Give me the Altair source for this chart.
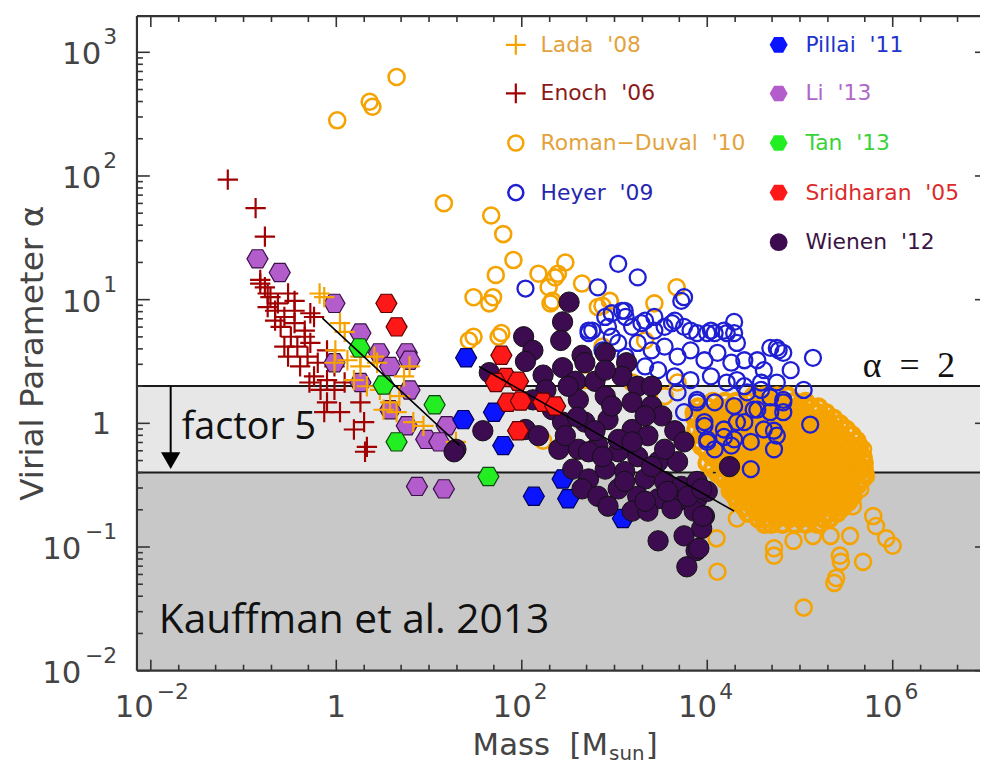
import altair as alt
import numpy as np
import pandas as pd

# ---------------- data: (log10 Mass [Msun], log10 alpha) ----------------
lada = [(-0.18, 1.05), (-0.13, 1.02), (0.04, 0.81), (0.09, 0.74), (-0.01, 0.59), (0.12, 0.51),
        (0.26, 0.46), (0.41, 0.54), (0.44, 0.49), (0.79, 0.46), (0.73, 0.38), (0.33, 0.30),
        (0.58, 0.17), (0.51, 0.11), (0.65, 0.09), (0.83, 0.01), (0.94, -0.02), (1.29, -0.15),
        (-0.02, 0.49), (0.19, 0.35), (0.47, 0.27), (0.68, 0.22), (0.26, 0.54)]

enoch = [(-1.17, 1.97), (-0.87, 1.74), (-0.77, 1.51), (-0.82, 1.16), (-0.77, 1.10), (-0.71, 1.02),
         (-0.63, 0.97), (-0.66, 0.91), (-0.56, 0.86), (-0.74, 0.94), (-0.45, 0.81), (-0.60, 0.78),
         (-0.49, 0.70), (-0.34, 0.70), (-0.42, 0.62), (-0.56, 0.62), (-0.28, 0.65), (-0.31, 0.54),
         (-0.20, 0.49), (-0.39, 0.46), (-0.24, 0.38), (-0.10, 0.35), (-0.29, 0.33), (-0.17, 0.27),
         (-0.02, 0.27), (0.09, 0.33), (-0.10, 0.17), (0.04, 0.09), (-0.13, 0.09), (0.26, 0.17),
         (0.30, 0.01), (0.19, -0.05), (0.33, -0.19), (0.31, -0.23), (-0.24, 0.86), (-0.45, 0.99),
         (-0.52, 1.05), (-0.28, 0.89), (-0.34, 0.75), (-0.10, 0.59), (-0.02, 0.46), (-0.52, 0.54),
         (-0.45, 0.91), (-0.66, 0.83), (-0.74, 1.05), (-0.82, 1.13)]

roman_duval = [(0.01, 2.45), (0.36, 2.60), (0.39, 2.56), (0.65, 2.80), (1.16, 1.78), (1.67, 1.68),
               (1.80, 1.53), (1.91, 1.32), (1.72, 1.20), (2.47, 1.30), (2.39, 1.21), (2.29, 1.10),
               (1.48, 1.02), (1.69, 1.02), (1.65, 0.97), (2.31, 0.97), (2.65, 1.13), (2.87, 0.95),
               (2.95, 0.99), (3.67, 1.10), (3.43, 0.97), (1.48, 0.70), (1.78, 0.73), (2.18, 1.21),
               (2.36, 1.18), (2.82, 0.94), (1.43, 0.67), (1.75, 0.70), (2.33, 0.99), (3.33, 0.67),
               (2.87, 0.62), (2.68, 0.35), (3.19, 0.33), (3.54, 0.22), (3.68, 0.33), (2.23, -0.14),
               (5.28, 0.01), (5.68, -0.21), (5.71, -0.43), (5.79, -0.75), (6.00, -0.99), (5.82, -0.83),
               (5.43, -1.07), (5.68, -1.12), (5.39, -1.25), (5.04, -1.49), (4.72, -1.07), (4.93, -0.95),
               (4.11, -1.20), (4.10, -0.93), (4.32, -0.77), (5.54, -0.91), (5.14, -0.91), (5.33, -0.91),
               (5.93, -0.93), (5.57, -0.67), (5.65, -0.53), (4.72, -1.01), (4.90, -0.75), (5.37, -1.29),
               (5.44, -1.12)]

# dense Roman-Duval cloud, row by row (log10 alpha, [log10 M ...])
roman_duval_cloud = [
    (0.22, [4.50, 4.62, 4.75, 4.87]),
    (0.175, [4.06, 4.19, 4.31, 4.44, 4.56, 4.69, 4.81, 4.94, 5.06]),
    (0.13, [3.90, 4.00, 4.13, 4.25, 4.38, 4.50, 4.62, 4.75, 4.88, 5.00, 5.12, 5.20]),
    (0.085, [3.86, 3.94, 4.06, 4.19, 4.31, 4.44, 4.56, 4.69, 4.81, 4.94, 5.06, 5.19, 5.28]),
    (0.04, [3.87, 4.00, 4.12, 4.25, 4.38, 4.50, 4.63, 4.75, 4.87, 5.00, 5.12, 5.25, 5.36]),
    (-0.005, [3.94, 4.06, 4.19, 4.31, 4.44, 4.56, 4.69, 4.81, 4.94, 5.06, 5.19, 5.31, 5.43]),
    (-0.05, [3.88, 4.00, 4.12, 4.25, 4.38, 4.50, 4.62, 4.75, 4.88, 5.00, 5.13, 5.25, 5.38, 5.50]),
    (-0.095, [3.94, 4.06, 4.19, 4.31, 4.44, 4.56, 4.69, 4.81, 4.94, 5.06, 5.19, 5.31, 5.44, 5.56]),
    (-0.14, [3.90, 4.00, 4.13, 4.25, 4.37, 4.50, 4.62, 4.75, 4.88, 5.00, 5.12, 5.25, 5.38, 5.50, 5.61]),
    (-0.185, [3.94, 4.06, 4.19, 4.31, 4.44, 4.56, 4.69, 4.81, 4.94, 5.06, 5.19, 5.31, 5.44, 5.56, 5.64]),
    (-0.23, [4.00, 4.12, 4.25, 4.38, 4.50, 4.63, 4.75, 4.87, 5.00, 5.12, 5.25, 5.38, 5.50, 5.62]),
    (-0.275, [4.06, 4.19, 4.31, 4.44, 4.56, 4.69, 4.81, 4.94, 5.06, 5.19, 5.31, 5.44, 5.56, 5.68]),
    (-0.32, [4.00, 4.13, 4.25, 4.37, 4.50, 4.62, 4.75, 4.88, 5.00, 5.12, 5.25, 5.38, 5.50, 5.62, 5.69]),
    (-0.365, [4.06, 4.19, 4.31, 4.44, 4.56, 4.69, 4.81, 4.94, 5.06, 5.19, 5.31, 5.44, 5.56, 5.69]),
    (-0.41, [4.12, 4.25, 4.38, 4.50, 4.62, 4.75, 4.87, 5.00, 5.13, 5.25, 5.37, 5.50, 5.62, 5.70]),
    (-0.455, [4.19, 4.31, 4.44, 4.56, 4.69, 4.81, 4.94, 5.06, 5.19, 5.31, 5.44, 5.56, 5.67]),
    (-0.50, [4.25, 4.37, 4.50, 4.63, 4.75, 4.88, 5.00, 5.12, 5.25, 5.38, 5.50, 5.62]),
    (-0.545, [4.25, 4.31, 4.44, 4.56, 4.69, 4.81, 4.94, 5.06, 5.19, 5.31, 5.44, 5.56]),
    (-0.59, [4.30, 4.38, 4.50, 4.62, 4.75, 4.88, 5.00, 5.13, 5.25, 5.37, 5.50, 5.57]),
    (-0.635, [4.33, 4.44, 4.56, 4.69, 4.81, 4.94, 5.06, 5.19, 5.31, 5.44, 5.52]),
    (-0.68, [4.40, 4.50, 4.63, 4.75, 4.87, 5.00, 5.12, 5.25, 5.37, 5.46]),
    (-0.725, [4.44, 4.56, 4.69, 4.81, 4.94, 5.06, 5.19, 5.31, 5.40]),
    (-0.77, [4.55, 4.62, 4.75, 4.88, 5.00, 5.12, 5.25, 5.32]),
    (-0.815, [4.62, 4.69, 4.81, 4.94, 5.06, 5.19]),
]

heyer = [(3.04, 1.29), (3.25, 1.18), (2.04, 1.09), (2.82, 1.10), (3.72, 0.99), (3.75, 1.02), (4.29, 0.82),
         (4.75, 0.61), (4.82, 0.57), (2.72, 0.75), (2.90, 0.86), (3.11, 0.91), (2.97, 0.70), (3.19, 0.78),
         (3.33, 0.83), (3.43, 0.75), (3.62, 0.81), (3.75, 0.78), (3.89, 0.73), (4.04, 0.75), (4.21, 0.73),
         (4.32, 0.65), (3.25, 0.65), (3.40, 0.59), (3.54, 0.62), (3.68, 0.54), (3.82, 0.59), (3.97, 0.51),
         (4.11, 0.57), (4.26, 0.49), (4.40, 0.51), (4.54, 0.51), (4.61, 0.43), (3.47, 0.43), (3.65, 0.38),
         (3.82, 0.35), (4.04, 0.38), (4.21, 0.33), (4.40, 0.30), (4.58, 0.27), (4.75, 0.33), (4.82, 0.19),
         (3.68, 0.25), (3.89, 0.19), (4.08, 0.17), (4.29, 0.14), (4.50, 0.11), (4.68, 0.09), (3.75, 0.09),
         (3.97, 0.01), (4.18, -0.05), (4.40, 0.01), (4.61, -0.05), (4.75, -0.10), (4.00, -0.15),
         (4.26, -0.18), (4.47, -0.15), (4.72, -0.21), (4.47, -0.37), (2.72, 0.73), (3.04, 0.65),
         (2.87, 0.59), (3.12, 0.54), (3.33, 0.46), (4.08, 0.73), (4.68, 0.61), (4.77, 0.59), (5.14, 0.53),
         (4.90, 0.43), (4.58, 0.33), (4.32, 0.35), (5.04, 0.27), (4.82, 0.17), (4.43, 0.25), (4.68, 0.21),
         (4.54, 0.11), (4.82, 0.09), (5.11, -0.01), (4.72, -0.06), (4.32, 0.01), (3.97, -0.02),
         (4.18, -0.11), (4.00, -0.13), (4.08, -0.21), (3.89, 0.17), (4.29, -0.13), (2.97, 0.89),
         (3.08, 0.91), (3.12, 0.86), (2.93, 0.78), (2.76, 0.75), (3.29, 0.81), (3.43, 0.86), (3.54, 0.78),
         (3.65, 0.83), (3.82, 0.75), (4.00, 0.73), (4.18, 0.75), (4.29, 0.73)]

pillai = [(1.40, 0.53), (1.37, 0.03), (1.80, -0.18), (2.13, -0.59), (2.44, -0.45), (2.50, -0.61),
          (3.09, -0.77), (1.70, 0.09)]

li = [(-0.85, 1.33), (-0.61, 1.22), (-0.02, 0.97), (0.26, 0.73), (0.46, 0.57), (0.76, 0.57), (0.79, 0.51),
      (-0.02, 0.49), (0.58, 0.46), (0.26, 0.33), (0.79, 0.27), (0.58, 0.11), (0.76, -0.02), (0.97, -0.13),
      (1.19, -0.02), (1.11, -0.15), (0.87, -0.51), (1.16, -0.53)]

tan = [(0.25, 0.61), (0.51, 0.31), (1.06, 0.15), (0.65, -0.15), (1.64, -0.43)]

sridharan = [(0.54, 0.97), (0.65, 0.78), (1.78, 0.55), (1.83, 0.37), (1.72, 0.33), (1.96, 0.34),
             (1.85, 0.17), (1.99, 0.18), (2.23, 0.17), (2.36, 0.14), (1.96, -0.06)]

wienen = [(2.51, 0.98), (2.44, 0.82), (2.42, 0.67), (2.02, 0.70), (2.12, 0.59), (2.04, 0.50), (2.65, 0.55),
          (2.90, 0.57), (3.13, 0.49), (2.23, 0.39), (2.44, 0.45), (2.58, 0.34), (2.79, 0.34), (3.08, 0.38),
          (3.25, 0.30), (3.40, 0.30), (1.65, 0.41), (1.58, -0.06), (1.29, -0.21), (2.04, -0.05),
          (2.18, -0.10), (2.33, 0.11), (2.61, 0.19), (2.90, 0.22), (3.19, 0.17), (3.40, 0.14), (3.51, 0.06),
          (2.44, 0.01), (2.68, 0.01), (2.93, 0.03), (3.19, -0.05), (3.36, -0.10), (3.65, -0.06),
          (3.75, -0.15), (2.40, -0.21), (2.61, -0.21), (2.82, -0.18), (3.04, -0.23), (3.25, -0.27),
          (3.47, -0.31), (3.68, -0.31), (2.55, -0.37), (2.72, -0.45), (2.90, -0.37), (3.11, -0.39),
          (3.33, -0.45), (3.54, -0.47), (3.72, -0.51), (3.89, -0.47), (2.65, -0.53), (2.82, -0.59),
          (3.04, -0.53), (3.25, -0.59), (3.47, -0.61), (3.68, -0.63), (3.89, -0.61), (4.00, -0.55),
          (2.93, -0.67), (3.19, -0.71), (3.36, -0.71), (3.62, -0.69), (3.86, -0.71), (3.97, -0.75),
          (3.94, -0.85), (3.47, -0.95), (3.75, -0.91), (3.88, -1.03), (3.78, -1.16), (4.24, -0.35),
          (2.60, 0.05), (2.79, -0.06), (3.04, -0.13), (2.50, 0.30), (2.26, 0.27), (2.12, 0.19),
          (2.68, 0.49), (2.90, 0.43), (2.97, 0.14), (3.33, 0.06), (2.72, -0.23), (3.19, -0.15),
          (2.87, -0.27), (2.47, -0.10), (3.54, -0.21), (3.40, -0.35), (3.11, -0.47), (3.57, -0.55),
          (3.33, -0.63), (3.79, -0.59), (3.94, -0.53), (3.95, -0.75), (3.91, -1.01), (1.27, -0.23)]

fit_low = [(-0.15, 0.85), (1.33, -0.18)]
fit_high = [(1.54, 0.46), (4.29, -0.71)]

alpha_limits = [2.0, 0.4]
band_lo = [0.01, 0.4]
band_hi = [0.4, 2.0]

x_major = [0.01, 1, 100, 1e4, 1e6]
x_minor = [0.02, 0.05, 0.1, 0.2, 0.5, 2, 5, 10, 20, 50, 200, 500, 1000, 2000, 5000,
           2e4, 5e4, 1e5, 2e5, 5e5, 2e6, 5e6]
x_base = ["10", "1", "10", "10", "10"]
x_exp = ["\u22122", "", "2", "4", "6"]
y_major = [0.01, 0.1, 1, 10, 100, 1000]
y_minor = [k * 10.0 ** e for e in range(-2, 3) for k in range(2, 10)]
y_base = ["10", "10", "1", "10", "10", "10"]
y_exp = ["\u22122", "\u22121", "", "1", "2", "3"]

legend_names = ["Lada\u00a0 '08", "Enoch\u00a0 '06", "Roman\u2212Duval\u00a0 '10", "Heyer\u00a0 '09",
                "Pillai\u00a0 '11", "Li\u00a0 '13", "Tan\u00a0 '13", "Sridharan\u00a0 '05", "Wienen\u00a0 '12"]
legend_text_colors = ["#e3a33c", "#8c1a1a", "#e3a33c", "#2626b0", "#2233cc", "#b066c8", "#3ad23a",
                      "#dd2a2a", "#3a1442"]

# ---------------- chart ----------------
W, H = 850, 660
XDOM = [10 ** -2.1497, 10 ** 6.9412]
YDOM = [0.01, 10 ** 3.293]
xs = alt.Scale(type="log", domain=XDOM, nice=False)
ys = alt.Scale(type="log", domain=YDOM, nice=False)
X = alt.X("mass:Q", scale=xs, axis=None)
Y = alt.Y("alpha:Q", scale=ys, axis=None)

ORANGE = "#f5a300"
BLUE_O = "#1e1ed2"
DARKRED = "#a00000"
HEX = "M -1 0 L -0.5 -0.866 L 0.5 -0.866 L 1 0 L 0.5 0.866 L -0.5 0.866 Z"
CROSS = "M -1 0 L 1 0 M 0 -1 L 0 1"
FONT = "DejaVu Sans"
LBL = "#444444"


def frame(pairs):
    a = np.array(pairs, dtype=float)
    return pd.DataFrame({"mass": 10 ** a[:, 0], "alpha": 10 ** a[:, 1]})


def open_pts(pairs, shape, size, color, sw):
    return alt.Chart(frame(pairs)).mark_point(
        shape=shape, size=size, filled=False, color=color, stroke=color, strokeWidth=sw, opacity=1
    ).encode(x=X, y=Y)


def solid_pts(pairs, shape, size, fill, stroke, sw):
    return alt.Chart(frame(pairs)).mark_point(
        shape=shape, size=size, filled=True, fill=fill, stroke=stroke, strokeWidth=sw, opacity=1
    ).encode(x=X, y=Y)


cloud_pairs = [(m, a) for a, ms in roman_duval_cloud for m in ms]

layers = []
bands = pd.DataFrame({"lo": band_lo, "hi": band_hi, "band": ["low", "mid"]})
layers.append(alt.Chart(bands).mark_rect().encode(
    y=alt.Y("lo:Q", scale=ys, axis=None), y2="hi:Q", x=alt.value(0), x2=alt.value(W),
    color=alt.Color("band:N", scale=alt.Scale(domain=["low", "mid"], range=["#c8c8c8", "#e7e7e7"]),
                    legend=None)))
layers.append(alt.Chart(pd.DataFrame({"alpha": alpha_limits})).mark_rule(
    color="#1a1a1a", strokeWidth=2).encode(y=Y, x=alt.value(0), x2=alt.value(W)))

# arrow "factor 5"
layers.append(alt.Chart(pd.DataFrame({"mass": [0.01637], "alpha": [2.0], "a2": [0.5]})).mark_rule(
    color="black", strokeWidth=2).encode(x=X, y=Y, y2="a2:Q"))
layers.append(alt.Chart(pd.DataFrame({"mass": [0.01637], "alpha": [0.5]})).mark_point(
    shape="triangle-down", filled=True, fill="black", size=380, opacity=1).encode(x=X, y=Y))

# data
layers.append(open_pts(cloud_pairs, "circle", 250, ORANGE, 4.2))
layers.append(open_pts(roman_duval, "circle", 260, ORANGE, 2.6))
layers.append(open_pts(heyer, "circle", 260, BLUE_O, 2.3))
layers.append(open_pts(enoch, CROSS, 420, DARKRED, 2.2))
layers.append(solid_pts(li, HEX, 450, "#b35ccc", "#3a1048", 1.2))
layers.append(open_pts(lada, CROSS, 420, ORANGE, 2.2))
layers.append(solid_pts(tan, HEX, 450, "#22ee22", "#124412", 1.2))
layers.append(solid_pts(pillai, HEX, 450, "#0a14ff", "#00005a", 1.2))
layers.append(solid_pts(wienen, "circle", 420, "#3d0b50", "#111111", 1.0))
layers.append(solid_pts(sridharan, HEX, 450, "#ff1818", "#5a0000", 1.2))

for fit in (fit_low, fit_high):
    layers.append(alt.Chart(frame(fit)).mark_line(color="black", strokeWidth=1.6).encode(x=X, y=Y))

# annotations
layers.append(alt.Chart(pd.DataFrame({"mass": [0.0215], "alpha": [0.744]})).mark_text(
    text="factor 5", align="left", baseline="alphabetic", font="Open Sans", fontSize=38,
    color="#111111").encode(x=X, y=Y))
layers.append(alt.Chart(pd.DataFrame({"mass": [0.0122], "alpha": [0.0203]})).mark_text(
    text="Kauffman et al. 2013", align="left", baseline="alphabetic", font="Open Sans", fontSize=41,
    color="#111111").encode(x=X, y=Y))
layers.append(alt.Chart(pd.DataFrame({"mass": [4.72e6], "alpha": [2.38]})).mark_text(
    text="\u03b1\u2002=\u20022", align="right", baseline="alphabetic", font="Liberation Serif",
    fontSize=36, color="#111111").encode(x=X, y=Y))

# ticks (inward, IDL style)
TK = "#333333"
xmaj = pd.DataFrame({"mass": x_major})
xmin = pd.DataFrame({"mass": x_minor})
ymaj = pd.DataFrame({"alpha": y_major})
ymin = pd.DataFrame({"alpha": y_minor})
for df, ln in ((xmaj, 11), (xmin, 6)):
    layers.append(alt.Chart(df).mark_rule(color=TK, strokeWidth=1.6).encode(
        x=X, y=alt.value(H), y2=alt.value(H - ln)))
    layers.append(alt.Chart(df).mark_rule(color=TK, strokeWidth=1.6).encode(
        x=X, y=alt.value(0), y2=alt.value(ln)))
for df, ln in ((ymaj, 13), (ymin, 6)):
    layers.append(alt.Chart(df).mark_rule(color=TK, strokeWidth=1.6).encode(
        y=Y, x=alt.value(0), x2=alt.value(ln)))
layers.append(alt.Chart(ymaj).mark_rule(color=TK, strokeWidth=1.6).encode(
    y=Y, x=alt.value(W - 5), x2=alt.value(W)))

# frame (left, top, bottom)
for enc in (dict(x=alt.value(0), y=alt.value(0), y2=alt.value(H)),
            dict(y=alt.value(0), x=alt.value(0), x2=alt.value(W)),
            dict(y=alt.value(H), x=alt.value(0), x2=alt.value(W))):
    layers.append(alt.Chart(pd.DataFrame({"k": [0]})).mark_rule(color=TK, strokeWidth=2.2).encode(**enc))


def kind(e):
    return "one" if e == "" else ("neg" if e.startswith("\u2212") else "pos")


xl = pd.DataFrame({"mass": x_major, "base": x_base, "exp": x_exp, "kind": [kind(e) for e in x_exp]})
yl = pd.DataFrame({"alpha": y_major, "base": y_base, "exp": y_exp, "kind": [kind(e) for e in y_exp]})

XB, XE = H + 47, H + 29
for k, bdx, edx in (("pos", 10, 12), ("neg", 3, 6)):
    sub = xl[xl["kind"] == k]
    layers.append(alt.Chart(sub).mark_text(align="right", dx=bdx, baseline="alphabetic", font=FONT,
                                           fontSize=31, color=LBL).encode(x=X, y=alt.value(XB), text="base:N"))
    layers.append(alt.Chart(sub).mark_text(align="left", dx=edx, baseline="alphabetic", font=FONT,
                                           fontSize=22, color=LBL).encode(x=X, y=alt.value(XE), text="exp:N"))
layers.append(alt.Chart(xl[xl["kind"] == "one"]).mark_text(
    align="center", baseline="alphabetic", font=FONT, fontSize=31, color=LBL).encode(
    x=X, y=alt.value(XB), text="base:N"))

for k, bx in (("pos", -36), ("neg", -56)):
    sub = yl[yl["kind"] == k]
    layers.append(alt.Chart(sub).mark_text(align="right", dy=12, baseline="alphabetic", font=FONT,
                                           fontSize=31, color=LBL).encode(y=Y, x=alt.value(bx), text="base:N"))
    layers.append(alt.Chart(sub).mark_text(align="right", dy=-8, baseline="alphabetic", font=FONT,
                                           fontSize=22, color=LBL).encode(y=Y, x=alt.value(-20), text="exp:N"))
layers.append(alt.Chart(yl[yl["kind"] == "one"]).mark_text(
    align="right", dy=11, baseline="alphabetic", font=FONT, fontSize=31, color=LBL).encode(
    y=Y, x=alt.value(-26), text="base:N"))

one = pd.DataFrame({"k": [0]})
# axis titles
layers.append(alt.Chart(one).mark_text(text="Virial Parameter \u03b1", angle=270, align="center",
                                       baseline="middle", font=FONT, fontSize=33, color=LBL).encode(
    x=alt.value(-105), y=alt.value(340)))
layers.append(alt.Chart(one).mark_text(text="Mass\u00a0 [M", align="right", baseline="alphabetic",
                                       font=FONT, fontSize=31, color=LBL).encode(
    x=alt.value(475), y=alt.value(H + 85)))
layers.append(alt.Chart(one).mark_text(text="sun", align="left", baseline="alphabetic",
                                       font=FONT, fontSize=20, color=LBL).encode(
    x=alt.value(476), y=alt.value(H + 90)))
layers.append(alt.Chart(one).mark_text(text="]", align="left", baseline="alphabetic",
                                       font=FONT, fontSize=31, color=LBL).encode(
    x=alt.value(513), y=alt.value(H + 85)))

# legend (two columns)
col_sym = [382, 647]
col_txt = [407, 674]
row_y = [29, 78, 128, 178, 228]
legend_marks = [
    dict(shape=CROSS, size=400, filled=False, color=ORANGE, stroke=ORANGE, strokeWidth=2.2),
    dict(shape=CROSS, size=400, filled=False, color=DARKRED, stroke=DARKRED, strokeWidth=2.2),
    dict(shape="circle", size=230, filled=False, color=ORANGE, stroke=ORANGE, strokeWidth=2.5),
    dict(shape="circle", size=230, filled=False, color=BLUE_O, stroke=BLUE_O, strokeWidth=2.5),
    dict(shape=HEX, size=330, filled=True, fill="#0a14ff"),
    dict(shape=HEX, size=330, filled=True, fill="#b35ccc"),
    dict(shape=HEX, size=330, filled=True, fill="#22ee22"),
    dict(shape=HEX, size=330, filled=True, fill="#ff1818"),
    dict(shape="circle", size=320, filled=True, fill="#3d0b50"),
]
for i, (name, tc, mk) in enumerate(zip(legend_names, legend_text_colors, legend_marks)):
    c, r = (0, i) if i < 4 else (1, i - 4)
    layers.append(alt.Chart(one).mark_point(opacity=1, **mk).encode(
        x=alt.value(col_sym[c]), y=alt.value(row_y[r])))
    layers.append(alt.Chart(one).mark_text(text=name, align="left", baseline="middle", font=FONT,
                                           fontSize=22, color=tc).encode(
        x=alt.value(col_txt[c]), y=alt.value(row_y[r])))

chart = alt.layer(*layers).properties(
    width=W, height=H,
    padding={"left": 130, "top": 5, "right": 0, "bottom": 96},
    autosize=alt.AutoSizeParams(type="none"),
).configure_view(stroke=None)

chart.save("out.html", embed_options={"renderer": "svg", "actions": False})
